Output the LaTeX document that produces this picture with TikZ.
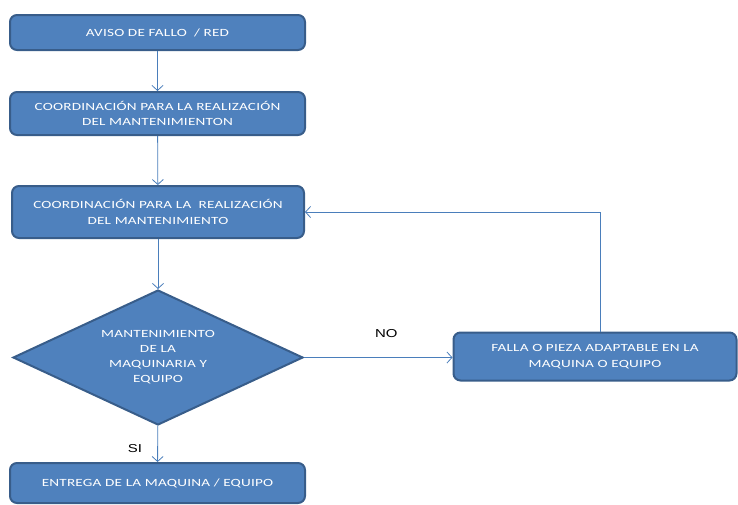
\documentclass[tikz,border=0pt]{standalone}
\usepackage{fontspec}
\usepackage{tikz}
\usetikzlibrary{shapes.geometric,arrows.meta}
\setmainfont{Carlito}
\newfontfamily\boxfont{Carlito}[FakeStretch=1.38, LetterSpace=2]
\newfontfamily\lblfont{Liberation Sans}[FakeStretch=1.3]
\definecolor{BoxBlue}{RGB}{79,129,189}
\definecolor{BoxEdge}{RGB}{56,93,138}
\definecolor{LineBlue}{RGB}{74,126,187}

\tikzset{
  procbox/.style={draw=BoxEdge, fill=BoxBlue, line width=2pt, rounded corners=7pt,
    text=white, font=\boxfont\fontsize{11}{15.5}\selectfont, align=center, inner sep=0pt},
  decbox/.style={diamond, draw=BoxEdge, fill=BoxBlue, line width=2pt, aspect=2.15,
    text=white, font=\boxfont\fontsize{11}{15}\selectfont, align=center, inner sep=0pt,
    minimum width=290pt, minimum height=135pt},
  flowline/.style={LineBlue, line width=0.8pt, -{Straight Barb[length=5pt,width=11pt]}},
  branchlbl/.style={text=black, font=\lblfont\fontsize{11.5}{14}\selectfont}
}

\begin{document}
\begin{tikzpicture}[x=1pt, y=-1pt]
  \useasboundingbox (0,0) rectangle (738,504);

  \node[procbox, minimum width=295pt, minimum height=35pt] (aviso) at (157.5,32.5)
    {AVISO DE FALLO~ / RED};
  \node[procbox, minimum width=295pt, minimum height=43pt] (coord1) at (157.5,113.5)
    {COORDINACIÓN PARA LA REALIZACIÓN\\DEL MANTENIMIENTON};
  \node[procbox, minimum width=292pt, minimum height=52pt] (coord2) at (158,212)
    {COORDINACIÓN PARA LA~ REALIZACIÓN\\DEL MANTENIMIENTO};
  \node[decbox] (mant) at (158,357.5)
    {MANTENIMIENTO\\DE LA\\MAQUINARIA Y\\EQUIPO};
  \node[procbox, minimum width=283pt, minimum height=48pt] (falla) at (595,356.5)
    {FALLA O PIEZA ADAPTABLE EN LA\\MAQUINA O EQUIPO};
  \node[procbox, minimum width=295pt, minimum height=40pt] (entrega) at (157.5,483)
    {ENTREGA DE LA MAQUINA / EQUIPO};

  \draw[flowline] (aviso) -- (coord1);
  \draw[flowline] (coord1) -- (coord2);
  \draw[flowline] (coord2) -- (mant);
  \draw[flowline] (mant) -- node[branchlbl, left=12pt, yshift=-5pt] {SI} (entrega);
  \draw[flowline] (mant.east) -- node[branchlbl, above=16pt, xshift=8pt] {NO} (mant.east -| falla.west);
  \draw[flowline] ([xshift=5pt]falla.north) |- (coord2.east);
\end{tikzpicture}
\end{document}
